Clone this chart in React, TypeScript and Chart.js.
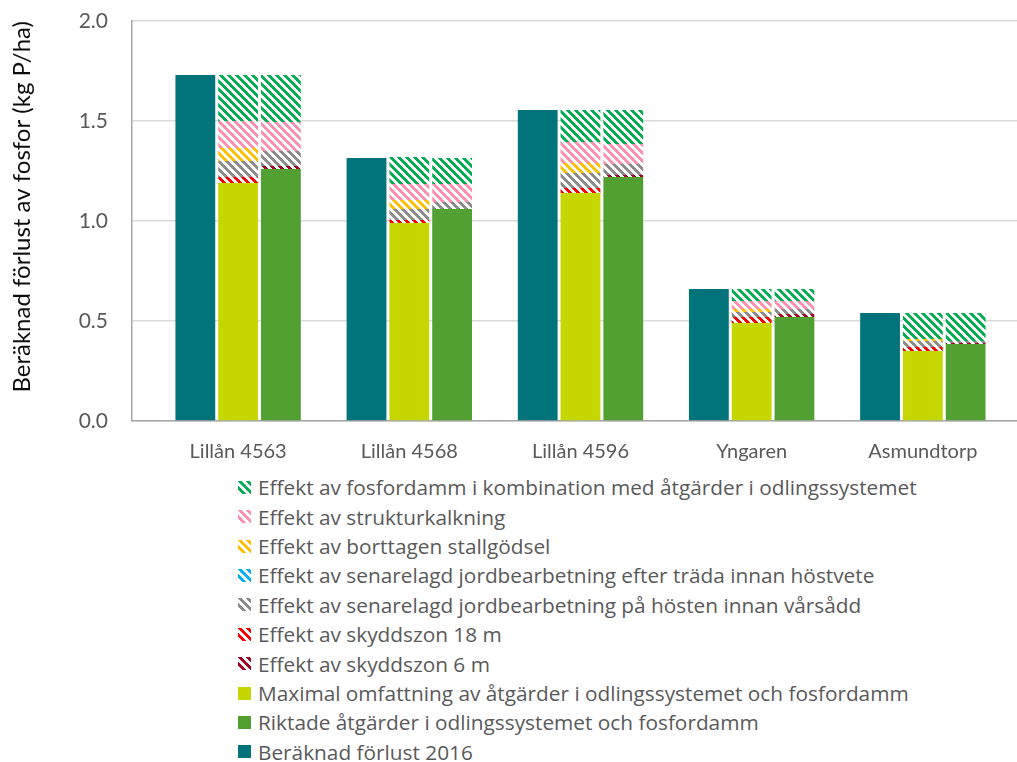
import React, { useEffect, useMemo, useRef } from 'react';
import { Chart, registerables } from 'chart.js';

Chart.register(...registerables);

// ---------- data ----------
const categories = ['Lillån 4563', 'Lillån 4568', 'Lillån 4596', 'Yngaren', 'Asmundtorp'];
const yTicks = [0, 0.5, 1.0, 1.5, 2.0];

const loss2016 = [1.73, 1.315, 1.555, 0.66, 0.54];

// "Maximal omfattning" stack
const maxBase = [1.19, 0.99, 1.14, 0.49, 0.35];
const maxZone18 = [0.03, 0.015, 0.025, 0.03, 0.02];
const maxLateAutumn = [0.08, 0.055, 0.075, 0.025, 0.03];
const maxLateFallow = [0, 0, 0, 0, 0];
const maxManure = [0.065, 0.045, 0.05, 0.015, 0.01];
const maxLiming = [0.135, 0.08, 0.105, 0.04, 0];
const maxPond = [0.23, 0.135, 0.16, 0.06, 0.13];

// "Riktade åtgärder" stack
const rikBase = [1.26, 1.06, 1.22, 0.52, 0.385];
const rikZone6 = [0.015, 0, 0.01, 0.015, 0.005];
const rikLateAutumn = [0.075, 0.035, 0.055, 0.025, 0.01];
const rikLiming = [0.145, 0.09, 0.1, 0.04, 0];
const rikPond = [0.235, 0.13, 0.17, 0.06, 0.14];

// ---------- labels / colours ----------
const L_POND = 'Effekt av fosfordamm i kombination med åtgärder i odlingssystemet';
const L_LIME = 'Effekt av strukturkalkning';
const L_MANURE = 'Effekt av borttagen stallgödsel';
const L_FALLOW = 'Effekt av senarelagd jordbearbetning efter träda innan höstvete';
const L_AUTUMN = 'Effekt av senarelagd jordbearbetning på hösten innan vårsådd';
const L_Z18 = 'Effekt av skyddszon 18 m';
const L_Z6 = 'Effekt av skyddszon 6 m';
const L_MAX = 'Maximal omfattning av åtgärder i odlingssystemet och fosfordamm';
const L_RIK = 'Riktade åtgärder i odlingssystemet och fosfordamm';
const L_2016 = 'Beräknad förlust 2016';

const C_TEAL = '#00737B';
const C_YG = '#C5D600';
const C_GREEN = '#52A032';
const C_POND = '#00B050';
const C_LIME = '#FF8FAF';
const C_MANURE = '#FFC000';
const C_FALLOW = '#00B0F0';
const C_AUTUMN = '#8C8C8C';
const C_Z18 = '#FF0000';
const C_Z6 = '#A50021';

const legendItems: { label: string; color: string; hatch: boolean }[] = [
  { label: L_POND, color: C_POND, hatch: true },
  { label: L_LIME, color: C_LIME, hatch: true },
  { label: L_MANURE, color: C_MANURE, hatch: true },
  { label: L_FALLOW, color: C_FALLOW, hatch: true },
  { label: L_AUTUMN, color: C_AUTUMN, hatch: true },
  { label: L_Z18, color: C_Z18, hatch: true },
  { label: L_Z6, color: C_Z6, hatch: true },
  { label: L_MAX, color: C_YG, hatch: false },
  { label: L_RIK, color: C_GREEN, hatch: false },
  { label: L_2016, color: C_TEAL, hatch: false },
];

const FONT = 'Lato, "Open Sans", sans-serif';
const LEGEND_FONT = '"Open Sans", Lato, sans-serif';

function hatchCanvas(color: string): HTMLCanvasElement {
  const c = document.createElement('canvas');
  c.width = 8;
  c.height = 8;
  const ctx = c.getContext('2d')!;
  ctx.fillStyle = '#ffffff';
  ctx.fillRect(0, 0, 8, 8);
  ctx.fillStyle = color;
  for (let y = 0; y < 8; y++) {
    for (let x = 0; x < 8; x++) {
      if ((((x - y) % 8) + 8) % 8 < 4) ctx.fillRect(x, y, 1, 1);
    }
  }
  return c;
}

function hatch(color: string): CanvasPattern {
  const ctx = document.createElement('canvas').getContext('2d')!;
  return ctx.createPattern(hatchCanvas(color), 'repeat')!;
}

const toXY = (arr: number[]) => arr.map((v, i) => ({ x: i, y: v }));

export default function App() {
  const ref = useRef<HTMLCanvasElement | null>(null);

  const swatches = useMemo(
    () =>
      legendItems.map((it) =>
        it.hatch
          ? { backgroundImage: `url(${hatchCanvas(it.color).toDataURL()})` }
          : { backgroundColor: it.color }
      ),
    []
  );

  useEffect(() => {
    if (!ref.current) return;
    const mk = (label: string, data: number[], stack: string, bg: any) => ({
      label,
      data: toXY(data),
      stack,
      backgroundColor: bg,
      borderWidth: 0,
    });
    const chart = new Chart(ref.current, {
      type: 'bar',
      data: {
        datasets: [
          mk(L_2016, loss2016, 'a', C_TEAL),
          mk(L_MAX, maxBase, 'b', C_YG),
          mk(L_RIK, rikBase, 'c', C_GREEN),
          mk(L_Z6, rikZone6, 'c', hatch(C_Z6)),
          mk(L_Z18, maxZone18, 'b', hatch(C_Z18)),
          mk(L_AUTUMN, maxLateAutumn, 'b', hatch(C_AUTUMN)),
          mk(L_AUTUMN, rikLateAutumn, 'c', hatch(C_AUTUMN)),
          mk(L_FALLOW, maxLateFallow, 'b', hatch(C_FALLOW)),
          mk(L_MANURE, maxManure, 'b', hatch(C_MANURE)),
          mk(L_LIME, maxLiming, 'b', hatch(C_LIME)),
          mk(L_LIME, rikLiming, 'c', hatch(C_LIME)),
          mk(L_POND, maxPond, 'b', hatch(C_POND)),
          mk(L_POND, rikPond, 'c', hatch(C_POND)),
        ] as any,
      },
      options: {
        animation: false,
        responsive: false,
        devicePixelRatio: 1,
        layout: { padding: { left: 0, right: 0, top: 21, bottom: 0 } },
        datasets: {
          bar: { categoryPercentage: 0.75, barPercentage: 0.93 },
        } as any,
        plugins: {
          legend: { display: false },
          tooltip: { enabled: false },
        },
        scales: {
          x: {
            type: 'linear',
            offset: false,
            min: -0.62,
            max: 4.55,
            afterBuildTicks: (s: any) => {
              s.ticks = categories.map((_, i) => ({ value: i }));
            },
            afterFit: (s: any) => {
              s.height = 49;
            },
            grid: { display: false, drawTicks: false, offset: false },
            border: { display: true, color: '#A6A6A6', width: 1.5 },
            ticks: {
              autoSkip: false,
              maxRotation: 0,
              padding: 19,
              color: '#595959',
              font: { family: FONT, size: 20 },
              callback: (v: any) => categories[v as number] ?? '',
            },
          },
          y: {
            stacked: true,
            min: 0,
            max: 2,
            afterBuildTicks: (s: any) => {
              s.ticks = yTicks.map((v) => ({ value: v }));
            },
            afterFit: (s: any) => {
              s.width = 132;
              s.paddingTop = 12;
              s.paddingBottom = 12;
            },
            grid: { color: '#D9D9D9', lineWidth: 1.5, drawTicks: false },
            border: { display: true, color: '#A6A6A6', width: 1.5 },
            ticks: {
              padding: 24,
              color: '#595959',
              font: { family: FONT, size: 21 },
              callback: (v: any) => Number(v).toFixed(1),
            },
            title: {
              display: true,
              text: 'Beräknad förlust av fosfor (kg P/ha)',
              align: 'end',
              color: '#0D0D0D',
              font: { family: FONT, size: 24 },
              padding: { top: 8, bottom: 0 },
            },
          },
        },
      } as any,
    });
    return () => chart.destroy();
  }, []);

  return (
    <div style={{ position: 'absolute', left: 0, top: 0, width: 1017, height: 762, background: '#fff' }}>
      <canvas ref={ref} width={1017} height={470} style={{ display: 'block' }} />
      <div style={{ position: 'absolute', left: 238, top: 472.6 }}>
        {legendItems.map((it, i) => (
          <div
            key={i}
            style={{ display: 'flex', alignItems: 'center', height: 29.4, whiteSpace: 'nowrap' }}
          >
            <span
              style={{
                display: 'inline-block',
                width: 13,
                height: 13,
                marginRight: 7,
                ...swatches[i],
              }}
            />
            <span style={{ fontFamily: LEGEND_FONT, fontSize: 20.8, color: '#595959' }}>{it.label}</span>
          </div>
        ))}
      </div>
    </div>
  );
}
